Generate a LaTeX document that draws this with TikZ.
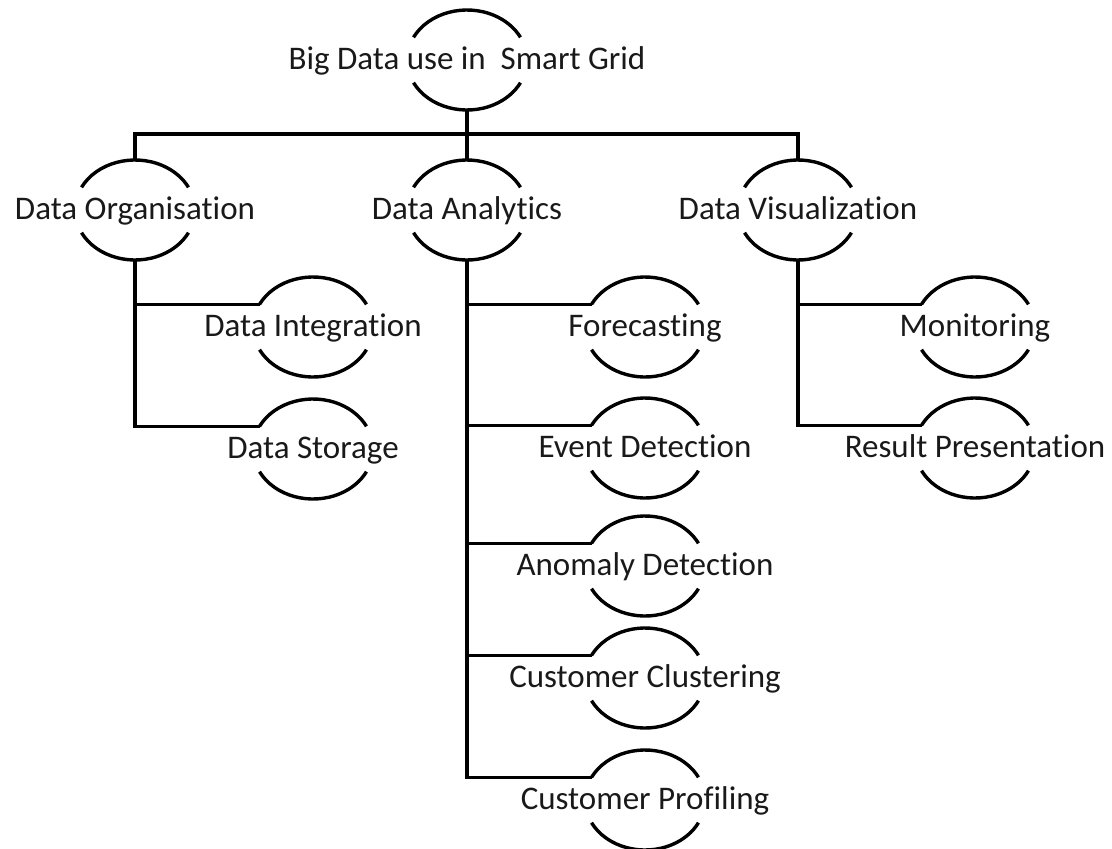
\documentclass[tikz,border=0pt]{standalone}
\usepackage{fontspec}
\setmainfont{Carlito}[Ligatures=NoCommon]
\usetikzlibrary{calc}
\tikzset{
  lbl/.style={font=\fontsize{33}{38}\selectfont, inner sep=0pt, text=black!90, anchor=base},
  arcline/.style={line width=3.4pt, black},
  conn/.style={line width=3.4pt, black},
}
\newcommand\arcbox[4]{%
  \coordinate (#1c) at (#2pt,-#3pt);
  \node[lbl] (#1) at ($(#1c)+(0,-9.5pt)$) {#4};
  \draw[arcline] ($(#1c)+(153:60pt and 50pt)$) arc[start angle=153,end angle=27,x radius=60pt,y radius=50pt];
  \draw[arcline] ($(#1c)+(207:60pt and 50pt)$) arc[start angle=207,end angle=333,x radius=60pt,y radius=50pt];
  \coordinate (#1-n) at ($(#1c)+(0,50pt)$);
  \coordinate (#1-s) at ($(#1c)+(0,-50pt)$);
  \coordinate (#1-w) at ($(#1c)+(153:60pt and 50pt)$);
}
\begin{document}
\begin{tikzpicture}
\useasboundingbox (0,0) rectangle (1112pt,-849pt);
\arcbox{root}{467}{60}{Big Data use in\ \ Smart Grid}
\arcbox{org}{135}{210}{Data Organisation}
\arcbox{ana}{467}{210}{Data Analytics}
\arcbox{vis}{798}{210}{Data Visualization}
\arcbox{int}{313}{327}{Data Integration}
\arcbox{sto}{313}{449}{Data Storage}
\arcbox{fore}{645}{327}{Forecasting}
\arcbox{event}{645}{448}{Event Detection}
\arcbox{anom}{645}{566}{Anomaly Detection}
\arcbox{clus}{645}{678}{Customer Clustering}
\arcbox{prof}{645}{800}{Customer Profiling}
\arcbox{mon}{975}{327}{Monitoring}
\arcbox{res}{975}{448}{Result Presentation}
\coordinate (bus) at (467pt,-134pt);
\draw[conn] (root-s) -- (ana-n);
\draw[conn] (org-n) |- (bus) -| (vis-n);
\draw[conn] (org-s) |- (int-w);
\draw[conn] (org-s) |- (sto-w);
\draw[conn] (ana-s) |- (fore-w);
\draw[conn] (ana-s) |- (event-w);
\draw[conn] (ana-s) |- (anom-w);
\draw[conn] (ana-s) |- (clus-w);
\draw[conn] (ana-s) |- (prof-w);
\draw[conn] (vis-s) |- (mon-w);
\draw[conn] (vis-s) |- (res-w);
\end{tikzpicture}
\end{document}
